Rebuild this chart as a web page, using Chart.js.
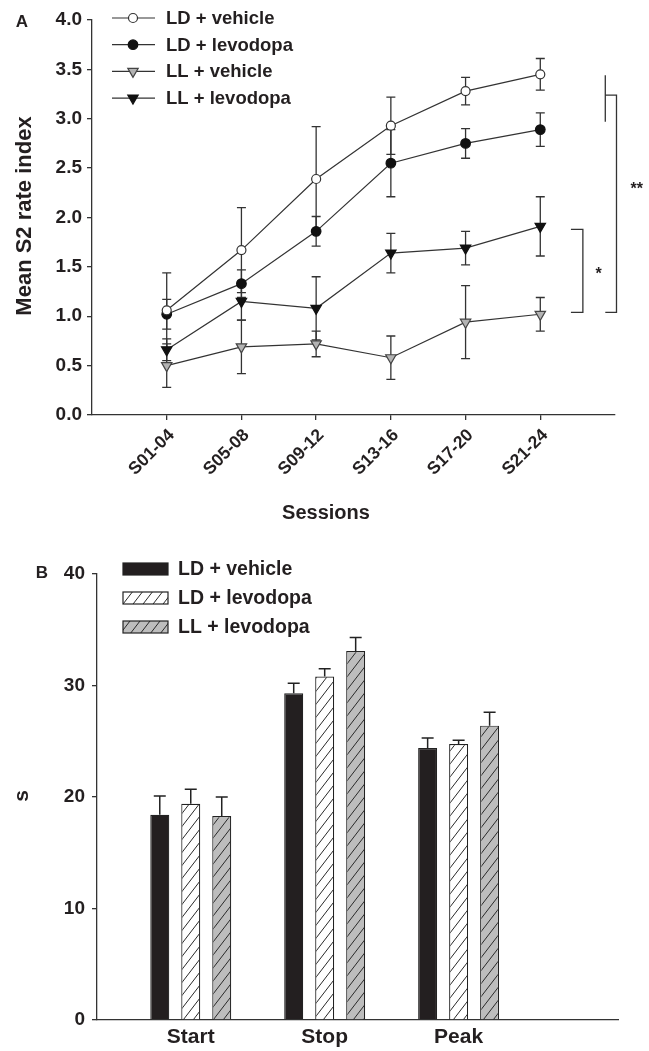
<!DOCTYPE html>
<html>
<head>
<meta charset="utf-8">
<title>S2 rate index / timing</title>
<script src="https://cdn.jsdelivr.net/npm/chart.js@4.4.1/dist/chart.umd.min.js"></script>
<style>
  html, body { margin: 0; padding: 0; background: #fff; }
  #wrap { position: relative; width: 649px; height: 1051px; overflow: hidden; }
  #chartA { position: absolute; left: 0; top: 0; }
  #chartB { position: absolute; left: 0; top: 530px; }
</style>
</head>
<body>
<div id="wrap">
  <canvas id="chartA" width="649" height="530"></canvas>
  <canvas id="chartB" width="649" height="521"></canvas>
</div>
<script>
// ---- panel A data ----
var sessions = ["S01-04", "S05-08", "S09-12", "S13-16", "S17-20", "S21-24"];
var rateTicks = [0, 0.5, 1, 1.5, 2, 2.5, 3, 3.5, 4];

var ldVehicle = [1.06, 1.67, 2.39, 2.93, 3.28, 3.45];
var ldVehicleErr = [0.38, 0.43, 0.53, 0.29, 0.14, 0.16];
var ldLevodopa = [1.02, 1.33, 1.86, 2.55, 2.75, 2.89];
var ldLevodopaErr = [0.15, 0.14, 0.15, 0.34, 0.15, 0.17];
var llVehicle = [0.5, 0.69, 0.72, 0.58, 0.94, 1.02];
var llVehicleErr = [0.22, 0.27, 0.13, 0.22, 0.37, 0.17];
var llLevodopa = [0.66, 1.15, 1.08, 1.64, 1.69, 1.91];
var llLevodopaErr = [0.11, 0.19, 0.32, 0.2, 0.17, 0.3];

// ---- panel B data ----
var phases = ["Start", "Stop", "Peak"];
var secondsTicks = [0, 10, 20, 30, 40];
var ldVehicleSec = [18.4, 29.3, 24.4];
var ldVehicleSecErr = [1.7, 0.9, 0.9];
var ldLevodopaSec = [19.4, 30.8, 24.75];
var ldLevodopaSecErr = [1.3, 0.7, 0.35];
var llLevodopaSec = [18.3, 33.1, 26.4];
var llLevodopaSecErr = [1.7, 1.2, 1.2];

var ink = "#231f20";
var family = "'Liberation Sans', Arial, Helvetica, sans-serif";

function xy(values) {
  return values.map(function (v, i) { return { x: i, y: v }; });
}

function boldFont(size) {
  return "bold " + size + "px " + family;
}

function hatch(bg) {
  var c = document.createElement("canvas");
  var w = 10, h = 13;
  c.width = w; c.height = h;
  var g = c.getContext("2d");
  g.fillStyle = bg;
  g.fillRect(0, 0, w, h);
  g.strokeStyle = "#2a2a2a";
  g.lineWidth = 1;
  for (var k = -1; k <= 1; k++) {
    g.beginPath();
    g.moveTo(k * w - 1, h + 1.3);
    g.lineTo(k * w + w + 1, -1.3);
    g.stroke();
  }
  return g.createPattern(c, "repeat");
}

function drawMarker(ctx, ds, x, y) {
  var r = ds.pointRadius;
  ctx.save();
  ctx.fillStyle = ds.pointBackgroundColor;
  ctx.strokeStyle = ds.pointBorderColor;
  ctx.lineWidth = ds.pointBorderWidth;
  ctx.beginPath();
  if (ds.pointStyle === "triangle") {
    var rad = (ds.pointRotation || 0) * Math.PI / 180;
    for (var k = 0; k < 3; k++) {
      var px = x + Math.sin(rad) * r, py = y - Math.cos(rad) * r;
      if (k === 0) ctx.moveTo(px, py); else ctx.lineTo(px, py);
      rad += 2 * Math.PI / 3;
    }
    ctx.closePath();
  } else {
    ctx.arc(x, y, r, 0, Math.PI * 2);
  }
  ctx.fill();
  ctx.stroke();
  ctx.restore();
}

// ---- panel A ----
var lineBase = {
  borderColor: "#333",
  borderWidth: 1.2,
  pointBorderWidth: 1.2,
  tension: 0,
};

var datasetsA = [
  Object.assign({}, lineBase, {
    label: "LD + vehicle", data: xy(ldVehicle), errors: ldVehicleErr,
    pointStyle: "circle", pointRadius: 4.5,
    pointBackgroundColor: "#fff", pointBorderColor: "#333",
  }),
  Object.assign({}, lineBase, {
    label: "LD + levodopa", data: xy(ldLevodopa), errors: ldLevodopaErr,
    pointStyle: "circle", pointRadius: 4.8,
    pointBackgroundColor: "#111", pointBorderColor: "#111",
  }),
  Object.assign({}, lineBase, {
    label: "LL + vehicle", data: xy(llVehicle), errors: llVehicleErr,
    pointStyle: "triangle", pointRotation: 180, pointRadius: 6,
    pointBackgroundColor: "#b3b3b3", pointBorderColor: "#444",
  }),
  Object.assign({}, lineBase, {
    label: "LL + levodopa", data: xy(llLevodopa), errors: llLevodopaErr,
    pointStyle: "triangle", pointRotation: 180, pointRadius: 6,
    pointBackgroundColor: "#111", pointBorderColor: "#111",
  }),
];

var panelAExtras = {
  id: "panelAExtras",
  beforeDatasetsDraw: function (chart) {
    var ctx = chart.ctx, sx = chart.scales.x, sy = chart.scales.y;
    ctx.save();
    ctx.strokeStyle = "#333";
    ctx.lineWidth = 1.3;
    chart.data.datasets.forEach(function (ds) {
      ds.data.forEach(function (pt, i) {
        var e = ds.errors[i];
        var px = sx.getPixelForValue(pt.x);
        var top = sy.getPixelForValue(pt.y + e);
        var bot = sy.getPixelForValue(pt.y - e);
        ctx.beginPath();
        ctx.moveTo(px, top); ctx.lineTo(px, bot);
        ctx.moveTo(px - 4.5, top); ctx.lineTo(px + 4.5, top);
        ctx.moveTo(px - 4.5, bot); ctx.lineTo(px + 4.5, bot);
        ctx.stroke();
      });
    });
    ctx.restore();
  },
  afterDraw: function (chart) {
    var ctx = chart.ctx, sx = chart.scales.x, sy = chart.scales.y;
    ctx.save();

    // legend
    chart.data.datasets.forEach(function (ds, i) {
      var ly = 18 + i * 26.7;
      ctx.strokeStyle = ds.borderColor;
      ctx.lineWidth = ds.borderWidth;
      ctx.beginPath();
      ctx.moveTo(112, ly); ctx.lineTo(155, ly);
      ctx.stroke();
      drawMarker(ctx, ds, 133, ly);
      ctx.fillStyle = ink;
      ctx.font = boldFont(18.5);
      ctx.textAlign = "left";
      ctx.textBaseline = "middle";
      ctx.fillText(ds.label, 166, ly + 1);
    });

    // significance brackets
    function X(v) { return sx.getPixelForValue(v); }
    function Y(v) { return sy.getPixelForValue(v); }
    ctx.strokeStyle = "#333";
    ctx.lineWidth = 1.3;
    ctx.beginPath();
    ctx.moveTo(X(5.87), Y(3.44)); ctx.lineTo(X(5.87), Y(2.97));
    ctx.moveTo(X(5.87), Y(3.24)); ctx.lineTo(X(6.02), Y(3.24));
    ctx.lineTo(X(6.02), Y(1.04)); ctx.lineTo(X(5.87), Y(1.04));
    ctx.moveTo(X(5.41), Y(1.88)); ctx.lineTo(X(5.57), Y(1.88));
    ctx.lineTo(X(5.57), Y(1.04)); ctx.lineTo(X(5.41), Y(1.04));
    ctx.stroke();
    ctx.fillStyle = ink;
    ctx.font = boldFont(16);
    ctx.textAlign = "center";
    ctx.textBaseline = "middle";
    ctx.fillText("**", X(6.29), Y(2.28));
    ctx.fillText("*", X(5.78), Y(1.42));

    // titles and panel letter
    ctx.font = boldFont(20);
    ctx.fillText("Sessions", 326, 513);
    ctx.save();
    ctx.translate(25, 216);
    ctx.rotate(-Math.PI / 2);
    ctx.font = boldFont(22);
    ctx.fillText("Mean S2 rate index", 0, 0);
    ctx.restore();
    ctx.font = boldFont(17);
    ctx.fillText("A", 22, 22);
    ctx.restore();
  },
};

new Chart(document.getElementById("chartA"), {
  type: "line",
  data: { datasets: datasetsA },
  options: {
    responsive: false,
    animation: false,
    layout: { padding: { top: 20, right: 34, left: 0, bottom: 0 } },
    plugins: { legend: { display: false }, tooltip: { enabled: false } },
    scales: {
      x: {
        type: "linear",
        min: -1,
        max: 6,
        afterBuildTicks: function (s) {
          s.ticks = sessions.map(function (_, i) { return { value: i }; });
        },
        afterFit: function (s) { s.height = 115; },
        grid: { display: true, drawOnChartArea: false, drawTicks: true, tickLength: 5, color: "#333", lineWidth: 1.3 },
        border: { display: true, color: "#333", width: 1.3 },
        ticks: {
          autoSkip: false, minRotation: 45, maxRotation: 45, padding: 5, labelOffset: 5,
          color: ink, font: { family: family, size: 17.5, weight: "bold" },
          callback: function (v) { return sessions[v]; },
        },
      },
      y: {
        min: 0,
        max: 4,
        afterBuildTicks: function (s) {
          s.ticks = rateTicks.map(function (v) { return { value: v }; });
        },
        afterFit: function (s) { s.width = 92; },
        grid: { display: true, drawOnChartArea: false, drawTicks: true, tickLength: 5, color: "#333", lineWidth: 1.3 },
        border: { display: true, color: "#333", width: 1.3 },
        ticks: {
          padding: 5, color: ink, font: { family: family, size: 19, weight: "bold" },
          callback: function (v) { return v.toFixed(1); },
        },
      },
    },
  },
  plugins: [panelAExtras],
});

// ---- panel B ----
var whiteHatch = hatch("#ffffff");
var grayHatch = hatch("#bdbdbd");

var datasetsB = [
  { label: "LD + vehicle", data: xy(ldVehicleSec), errors: ldVehicleSecErr, backgroundColor: "#231f20" },
  { label: "LD + levodopa", data: xy(ldLevodopaSec), errors: ldLevodopaSecErr, backgroundColor: whiteHatch },
  { label: "LL + levodopa", data: xy(llLevodopaSec), errors: llLevodopaSecErr, backgroundColor: grayHatch },
].map(function (ds) {
  return Object.assign(ds, {
    borderColor: "#222",
    borderWidth: 1.2,
    borderSkipped: "bottom",
    categoryPercentage: 0.694,
    barPercentage: 0.613,
  });
});

var panelBExtras = {
  id: "panelBExtras",
  afterDatasetsDraw: function (chart) {
    var ctx = chart.ctx, sy = chart.scales.y;
    ctx.save();
    ctx.strokeStyle = "#222";
    ctx.lineWidth = 1.5;
    chart.data.datasets.forEach(function (ds, di) {
      var meta = chart.getDatasetMeta(di);
      meta.data.forEach(function (bar, i) {
        var top = sy.getPixelForValue(ds.data[i].y + ds.errors[i]);
        ctx.beginPath();
        ctx.moveTo(bar.x, bar.y); ctx.lineTo(bar.x, top);
        ctx.moveTo(bar.x - 6, top); ctx.lineTo(bar.x + 6, top);
        ctx.stroke();
      });
    });
    ctx.restore();
  },
  afterDraw: function (chart) {
    var ctx = chart.ctx;
    ctx.save();
    chart.data.datasets.forEach(function (ds, i) {
      var ly = 39 + i * 29;
      ctx.fillStyle = ds.backgroundColor;
      ctx.fillRect(123, ly - 6, 45, 12);
      ctx.strokeStyle = "#222";
      ctx.lineWidth = 1.2;
      ctx.strokeRect(123, ly - 6, 45, 12);
      ctx.fillStyle = ink;
      ctx.font = boldFont(19.5);
      ctx.textAlign = "left";
      ctx.textBaseline = "middle";
      ctx.fillText(ds.label, 178, ly + 1);
    });
    ctx.fillStyle = ink;
    ctx.textAlign = "center";
    ctx.textBaseline = "middle";
    ctx.font = boldFont(17);
    ctx.fillText("B", 42, 43);
    ctx.font = boldFont(21);
    ctx.save();
    ctx.translate(22, 266);
    ctx.rotate(-Math.PI / 2);
    ctx.fillText("s", 0, 0);
    ctx.restore();
    ctx.restore();
  },
};

new Chart(document.getElementById("chartB"), {
  type: "bar",
  data: { datasets: datasetsB },
  options: {
    responsive: false,
    animation: false,
    layout: { padding: { top: 44, right: 31, left: 0, bottom: 0 } },
    plugins: { legend: { display: false }, tooltip: { enabled: false } },
    scales: {
      x: {
        type: "linear",
        offset: false,
        min: -0.7,
        max: 3.19,
        afterBuildTicks: function (s) {
          s.ticks = phases.map(function (_, i) { return { value: i }; });
        },
        afterFit: function (s) { s.height = 31; },
        grid: { display: true, offset: false, drawOnChartArea: false, drawTicks: false, color: "#333" },
        border: { display: true, color: "#333", width: 1.3 },
        ticks: {
          autoSkip: false, maxRotation: 0, padding: 5,
          color: ink, font: { family: family, size: 21, weight: "bold" },
          callback: function (v) { return phases[v]; },
        },
      },
      y: {
        min: 0,
        max: 40,
        afterBuildTicks: function (s) {
          s.ticks = secondsTicks.map(function (v) { return { value: v }; });
        },
        afterFit: function (s) { s.width = 97; },
        grid: { display: true, drawOnChartArea: false, drawTicks: true, tickLength: 5, color: "#333", lineWidth: 1.3 },
        border: { display: true, color: "#333", width: 1.3 },
        ticks: {
          padding: 7, color: ink, font: { family: family, size: 19, weight: "bold" },
        },
      },
    },
  },
  plugins: [panelBExtras],
});
</script>
</body>
</html>
